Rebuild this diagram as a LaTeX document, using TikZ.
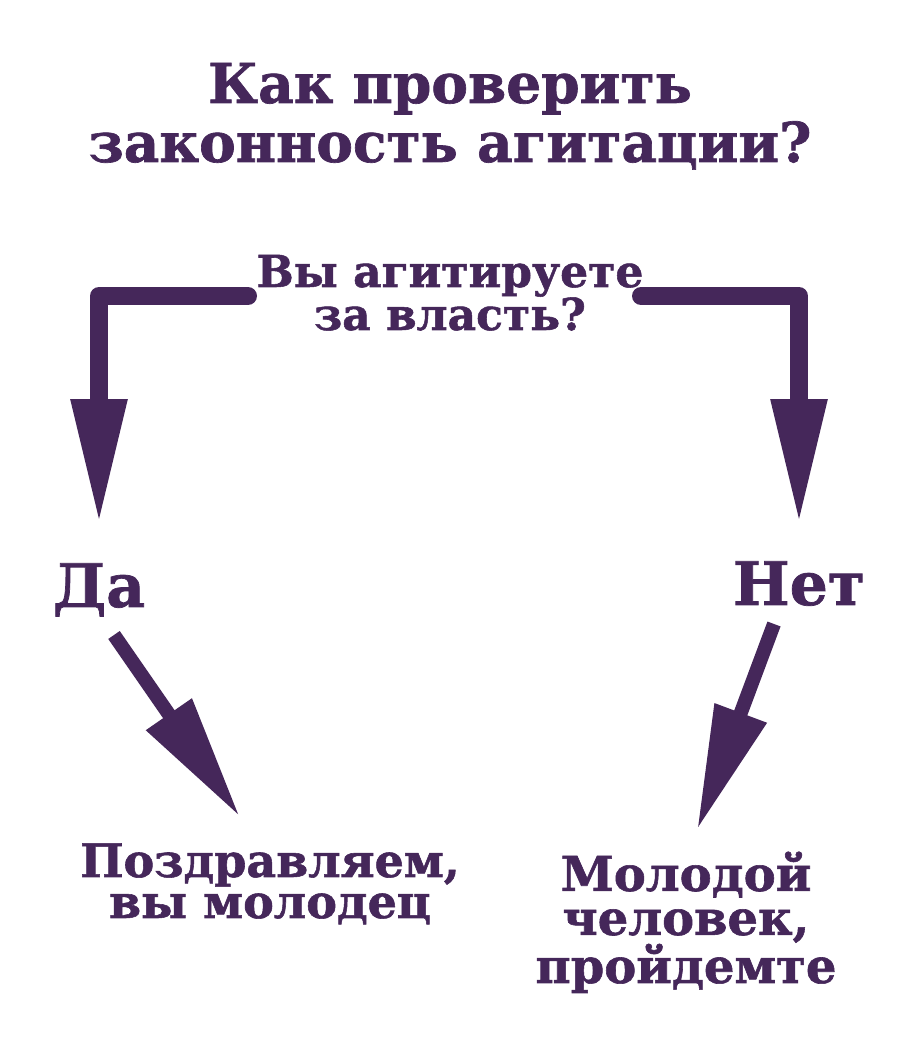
\documentclass[tikz,border=0pt]{standalone}
\usepackage{fontspec}
\setmainfont{DejaVu Serif}[BoldFeatures={FakeBold=1.2}]
\usetikzlibrary{arrows.meta}
\definecolor{grape}{HTML}{45275A}

\begin{document}
\begin{tikzpicture}[x=1pt,y=1pt,
  txt/.style={text=grape,align=center,inner sep=0pt,anchor=base},
  elbow/.style={grape,line width=18pt,line cap=round,line join=round,
    -{Triangle[width=52pt,length=126pt]}},
  slant/.style={grape,line width=14pt,-{Triangle[width=52pt,length=125pt]}}]
\useasboundingbox (0,0) rectangle (900,1041);

% Title
\node[txt,font=\fontsize{55}{59}\selectfont\bfseries] (title) at (450,879)
  {Как проверить\\законность агитации?};

% Question
\node[txt,font=\fontsize{44}{43}\selectfont\bfseries] (quest) at (450,711)
  {Вы агитируете\\за власть?};
\coordinate (questL) at (248,745);
\coordinate (questR) at (641,745);

% Answers
\node[txt,font=\fontsize{60}{60}\selectfont\bfseries] (yes) at (99,434) {Да};
\node[txt,font=\fontsize{60}{60}\selectfont\bfseries] (no) at (799,436) {Нет};

\draw[elbow] (questL) -| ([yshift=38pt]yes.north);
\draw[elbow] (questR) -| ([yshift=36pt]no.north);

% Results
\node[txt,font=\fontsize{46}{41}\selectfont\bfseries] (congrats) at (270,123)
  {Поздравляем,\\вы молодец};
\node[txt,font=\fontsize{48}{44}\selectfont\bfseries] (follow) at (686,58)
  {Молодой\\человек,\\пройдемте};

\coordinate (yesS) at (114,406);
\coordinate (noS) at (774,417);
\draw[slant] (yesS) -- (240,224);
\draw[slant] (noS) -- (697,211);

\end{tikzpicture}
\end{document}
